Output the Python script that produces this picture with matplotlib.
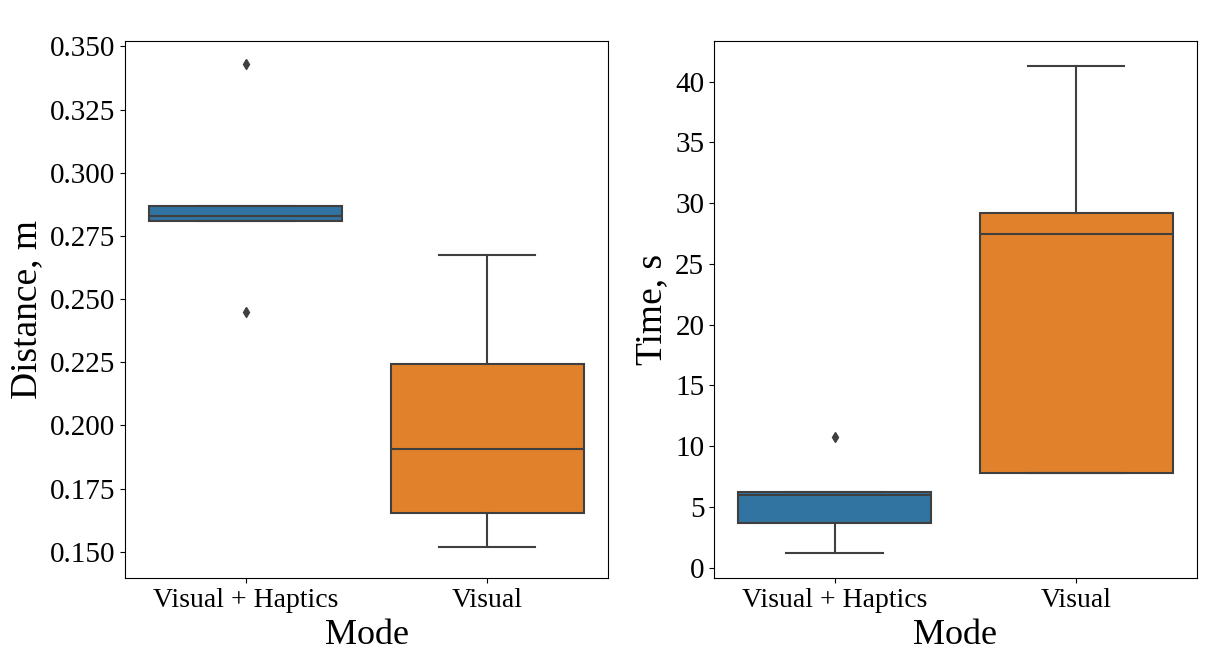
import matplotlib
matplotlib.use("Agg")
import matplotlib.pyplot as plt

plt.rcParams['font.family'] = ['Liberation Serif', 'DejaVu Serif']

modes = ['Visual + Haptics', 'Visual']
colors = ['#3274a1', '#e1812c']

# distance (m)
dist_whislo = [0.281, 0.152]
dist_q1 = [0.281, 0.1655]
dist_med = [0.283, 0.1905]
dist_q3 = [0.287, 0.2245]
dist_whishi = [0.287, 0.2675]
dist_fliers = [[0.343, 0.245], []]

# time (s)
time_whislo = [1.2, 7.8]
time_q1 = [3.7, 7.8]
time_med = [6.0, 27.5]
time_q3 = [6.25, 29.2]
time_whishi = [6.25, 41.3]
time_fliers = [[10.8], []]


def make_stats(lo, q1, med, q3, hi, fl):
    return [dict(label=modes[i], whislo=lo[i], q1=q1[i], med=med[i],
                 q3=q3[i], whishi=hi[i], fliers=fl[i]) for i in range(len(modes))]


def draw(ax, stats, ylabel):
    gray = '#3f3f3f'
    bp = ax.bxp(stats, positions=range(len(stats)), widths=0.8,
                patch_artist=True, showfliers=True,
                boxprops=dict(edgecolor=gray, linewidth=1.5),
                medianprops=dict(color=gray, linewidth=1.5),
                whiskerprops=dict(color=gray, linewidth=1.5),
                capprops=dict(color=gray, linewidth=1.5),
                flierprops=dict(marker='d', markerfacecolor=gray,
                                markeredgecolor=gray, markersize=5))
    for patch, c in zip(bp['boxes'], colors):
        patch.set_facecolor(c)
    ax.set_xlim(-0.5, len(stats) - 0.5)
    ax.set_xlabel('Mode', fontsize=26, labelpad=5)
    ax.set_ylabel(ylabel, fontsize=27)
    ax.tick_params(axis='y', labelsize=21)
    ax.tick_params(axis='x', labelsize=20)


fig, (ax1, ax2) = plt.subplots(1, 2, figsize=(12.15, 6.68), dpi=100)
fig.subplots_adjust(left=0.103, right=0.985, top=0.938, bottom=0.135, wspace=0.22)

draw(ax1, make_stats(dist_whislo, dist_q1, dist_med, dist_q3, dist_whishi, dist_fliers),
     'Distance, m')
ax1.set_ylim(0.1397, 0.352)
ax1.set_yticks([0.150, 0.175, 0.200, 0.225, 0.250, 0.275, 0.300, 0.325, 0.350])
ax1.set_yticklabels(['0.150', '0.175', '0.200', '0.225', '0.250', '0.275',
                     '0.300', '0.325', '0.350'])

draw(ax2, make_stats(time_whislo, time_q1, time_med, time_q3, time_whishi, time_fliers),
     'Time, s')
ax2.set_ylim(-0.82, 43.3)
ax2.set_yticks(range(0, 41, 5))

fig.savefig('out.png')
